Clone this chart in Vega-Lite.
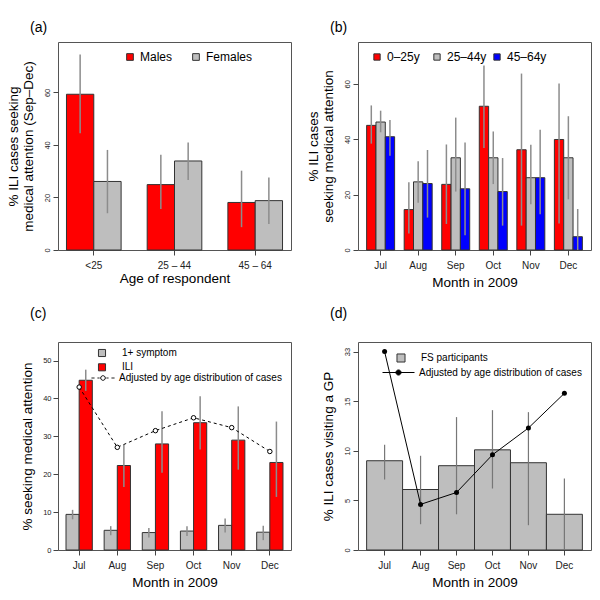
{
  "$schema": "https://vega.github.io/schema/vega-lite/v6.json",
  "padding": {"left": 5, "top": 20, "right": 5, "bottom": 5},
  "background": "white",
  "columns": 2,
  "bounds": "flush",
  "spacing": {"row": 92, "column": 67},
  "resolve": {
    "scale": {"x": "independent", "y": "independent", "xOffset": "independent", "fill": "independent", "stroke": "independent"},
    "legend": {"fill": "independent", "stroke": "independent"}
  },
  "config": {
    "font": "Liberation Sans",
    "view": {"stroke": "#555555", "strokeWidth": 1},
    "axis": {"domain": false, "grid": false, "tickColor": "#444444", "tickSize": 5, "labelColor": "#222222", "titleColor": "#000000", "titleFontWeight": "normal", "titleFontSize": 13.5, "labelFontSize": 7.5},
    "axisX": {"labelFontSize": 10, "labelAngle": 0, "labelPadding": 5, "titlePadding": 5},
    "axisY": {"labelAngle": -90, "labelAlign": "center", "labelBaseline": "bottom", "labelPadding": 2},
    "title": {"fontSize": 14, "fontWeight": "normal", "anchor": "start", "frame": "group", "dx": -28}
  },
  "concat": [
    {
      "width": 233, "height": 208,
      "title": {"text": "(a)", "offset": 7},
      "data": {"values": [
        {"age": "<25", "sex": "Males", "value": 59.3, "lo": 44.5, "hi": 74.4},
        {"age": "<25", "sex": "Females", "value": 26.1, "lo": 14.0, "hi": 38.1},
        {"age": "25 – 44", "sex": "Males", "value": 24.9, "lo": 15.6, "hi": 36.3},
        {"age": "25 – 44", "sex": "Females", "value": 33.9, "lo": 26.7, "hi": 40.9},
        {"age": "45 – 64", "sex": "Males", "value": 18.1, "lo": 8.7, "hi": 30.2},
        {"age": "45 – 64", "sex": "Females", "value": 18.8, "lo": 9.9, "hi": 27.6}
      ]},
      "encoding": {
        "x": {"field": "age", "type": "nominal", "sort": ["<25", "25 – 44", "45 – 64"], "scale": {"paddingInner": 0.323, "paddingOuter": 0.105}, "axis": {"title": "Age of respondent", "titlePadding": 1}},
        "xOffset": {"field": "sex", "type": "nominal", "sort": ["Males", "Females"], "scale": {"paddingInner": 0, "paddingOuter": 0}}
      },
      "layer": [
        {
          "mark": {"type": "bar", "stroke": "#333333", "strokeWidth": 1},
          "encoding": {
            "y": {"field": "value", "type": "quantitative", "scale": {"domain": [0, 79.2], "nice": false}, "axis": {"values": [0, 20, 40, 60], "title": ["% ILI cases seeking", "medical attention (Sep–Dec)"], "titleLineHeight": 15, "titlePadding": 8}},
            "fill": {"field": "sex", "type": "nominal", "scale": {"domain": ["Males", "Females"], "range": ["#ff0000", "#bebebe"]},
              "legend": {"orient": "none", "legendX": 66, "legendY": 9, "direction": "horizontal", "title": null, "symbolType": "square", "symbolSize": 45, "symbolStrokeColor": "#333333", "symbolStrokeWidth": 1, "labelFontSize": 12, "labelOffset": 4, "columnPadding": 3, "gridAlign": "all", "padding": 0, "labelColor": "#000000"}}
          }
        },
        {
          "mark": {"type": "rule", "color": "#8c8c8c", "strokeWidth": 1.5},
          "encoding": {"y": {"field": "lo", "type": "quantitative"}, "y2": {"field": "hi"}}
        }
      ]
    },
    {
      "width": 233, "height": 208,
      "title": {"text": "(b)", "offset": 7},
      "data": {"values": [
        {"month": "Jul", "grp": "0–25y", "value": 45.0, "lo": 38.4, "hi": 52.2},
        {"month": "Jul", "grp": "25–44y", "value": 46.2, "lo": 42.5, "hi": 50.3},
        {"month": "Jul", "grp": "45–64y", "value": 40.9, "lo": 34.0, "hi": 46.9},
        {"month": "Aug", "grp": "0–25y", "value": 14.6, "lo": 6.0, "hi": 24.5},
        {"month": "Aug", "grp": "25–44y", "value": 24.6, "lo": 17.1, "hi": 32.0},
        {"month": "Aug", "grp": "45–64y", "value": 24.0, "lo": 11.7, "hi": 36.1},
        {"month": "Sep", "grp": "0–25y", "value": 23.7, "lo": 9.4, "hi": 38.1},
        {"month": "Sep", "grp": "25–44y", "value": 33.3, "lo": 21.1, "hi": 47.8},
        {"month": "Sep", "grp": "45–64y", "value": 22.1, "lo": 5.3, "hi": 38.8},
        {"month": "Oct", "grp": "0–25y", "value": 51.9, "lo": 36.8, "hi": 66.6},
        {"month": "Oct", "grp": "25–44y", "value": 33.3, "lo": 23.8, "hi": 42.8},
        {"month": "Oct", "grp": "45–64y", "value": 21.1, "lo": 8.8, "hi": 33.2},
        {"month": "Nov", "grp": "0–25y", "value": 36.2, "lo": 8.8, "hi": 63.7},
        {"month": "Nov", "grp": "25–44y", "value": 26.1, "lo": 16.5, "hi": 38.0},
        {"month": "Nov", "grp": "45–64y", "value": 26.1, "lo": 12.9, "hi": 43.4},
        {"month": "Dec", "grp": "0–25y", "value": 39.9, "lo": 9.6, "hi": 60.1},
        {"month": "Dec", "grp": "25–44y", "value": 33.3, "lo": 18.3, "hi": 48.3},
        {"month": "Dec", "grp": "45–64y", "value": 4.8, "lo": 0, "hi": 14.8}
      ]},
      "encoding": {
        "x": {"field": "month", "type": "nominal", "sort": ["Jul", "Aug", "Sep", "Oct", "Nov", "Dec"], "scale": {"paddingInner": 0.255, "paddingOuter": 0.23}, "axis": {"title": "Month in 2009"}},
        "xOffset": {"field": "grp", "type": "nominal", "sort": ["0–25y", "25–44y", "45–64y"], "scale": {"paddingInner": 0, "paddingOuter": 0}}
      },
      "layer": [
        {
          "mark": {"type": "bar", "stroke": "#333333", "strokeWidth": 1},
          "encoding": {
            "y": {"field": "value", "type": "quantitative", "scale": {"domain": [0, 75.1], "nice": false}, "axis": {"values": [0, 10, 20, 30, 40, 50, 60, 70], "title": ["% ILI cases", "seeking medical attention"], "titleLineHeight": 15, "titlePadding": 8}},
            "fill": {"field": "grp", "type": "nominal", "scale": {"domain": ["0–25y", "25–44y", "45–64y"], "range": ["#ff0000", "#bebebe", "#0000ff"]},
              "legend": {"orient": "none", "legendX": 13, "legendY": 9, "direction": "horizontal", "title": null, "symbolType": "square", "symbolSize": 40, "symbolStrokeColor": "#333333", "symbolStrokeWidth": 1, "labelFontSize": 12, "labelOffset": 4, "columnPadding": 4, "gridAlign": "all", "padding": 0, "labelColor": "#000000"}}
          }
        },
        {
          "mark": {"type": "rule", "color": "#8c8c8c", "strokeWidth": 1.5},
          "encoding": {"y": {"field": "lo", "type": "quantitative"}, "y2": {"field": "hi"}}
        }
      ]
    },
    {
      "width": 233, "height": 208,
      "title": {"text": "(c)", "offset": 21},
      "encoding": {
        "x": {"field": "month", "type": "nominal", "sort": ["Jul", "Aug", "Sep", "Oct", "Nov", "Dec"], "scale": {"paddingInner": 0.31, "paddingOuter": 0.21}, "axis": {"title": "Month in 2009"}}
      },
      "layer": [
        {
          "data": {"values": [
            {"month": "Jul", "grp": "1+ symptom", "value": 9.4, "lo": 8.1, "hi": 10.6},
            {"month": "Jul", "grp": "ILI", "value": 44.8, "lo": 42.0, "hi": 47.6},
            {"month": "Aug", "grp": "1+ symptom", "value": 5.2, "lo": 3.9, "hi": 6.3},
            {"month": "Aug", "grp": "ILI", "value": 22.3, "lo": 16.6, "hi": 27.8},
            {"month": "Sep", "grp": "1+ symptom", "value": 4.6, "lo": 3.3, "hi": 5.8},
            {"month": "Sep", "grp": "ILI", "value": 28.0, "lo": 20.4, "hi": 36.6},
            {"month": "Oct", "grp": "1+ symptom", "value": 5.0, "lo": 3.7, "hi": 6.3},
            {"month": "Oct", "grp": "ILI", "value": 33.6, "lo": 26.5, "hi": 40.6},
            {"month": "Nov", "grp": "1+ symptom", "value": 6.5, "lo": 4.6, "hi": 8.3},
            {"month": "Nov", "grp": "ILI", "value": 29.0, "lo": 21.2, "hi": 37.9},
            {"month": "Dec", "grp": "1+ symptom", "value": 4.7, "lo": 2.6, "hi": 6.4},
            {"month": "Dec", "grp": "ILI", "value": 23.1, "lo": 14.0, "hi": 33.9}
          ]},
          "encoding": {
            "xOffset": {"field": "grp", "type": "nominal", "sort": ["1+ symptom", "ILI"], "scale": {"paddingInner": 0, "paddingOuter": 0}}
          },
          "layer": [
            {
              "mark": {"type": "bar", "stroke": "#333333", "strokeWidth": 1},
              "encoding": {
                "y": {"field": "value", "type": "quantitative", "scale": {"domain": [0, 54.9], "nice": false}, "axis": {"values": [0, 5, 10, 15, 20, 25, 30, 35, 40, 45, 50], "labelAngle": 0, "labelAlign": "right", "labelBaseline": "middle", "title": "% seeking medical attention", "titlePadding": 8}},
                "fill": {"field": "grp", "type": "nominal", "scale": {"domain": ["1+ symptom", "ILI"], "range": ["#bebebe", "#ff0000"]},
                  "legend": {"orient": "none", "legendX": 39, "legendY": 6, "direction": "vertical", "title": null, "symbolType": "square", "symbolSize": 50, "symbolStrokeColor": "#333333", "symbolStrokeWidth": 1, "labelFontSize": 10, "labelOffset": 15, "rowPadding": 2.3, "padding": 0, "labelColor": "#000000"}}
              }
            },
            {
              "mark": {"type": "rule", "color": "#8c8c8c", "strokeWidth": 1.5},
              "encoding": {"y": {"field": "lo", "type": "quantitative"}, "y2": {"field": "hi"}}
            }
          ]
        },
        {
          "data": {"values": [
            {"month": "Jul", "adj": 43.0},
            {"month": "Aug", "adj": 27.1},
            {"month": "Sep", "adj": 31.5},
            {"month": "Oct", "adj": 34.9},
            {"month": "Nov", "adj": 32.3},
            {"month": "Dec", "adj": 26.0}
          ]},
          "layer": [
            {
              "mark": {"type": "line", "strokeDash": [3, 3], "strokeWidth": 1},
              "encoding": {
                "y": {"field": "adj", "type": "quantitative"},
                "stroke": {"datum": "Adjusted by age distribution of cases", "scale": {"range": ["#000000"]},
                  "legend": {"orient": "none", "legendX": 33, "legendY": 24, "title": null, "symbolType": "M-1,0L-0.74,0M-0.48,0L-0.3,0M0.3,0L0.48,0M0.74,0L1,0M0.2,0A0.2,0.2,0,1,1,-0.2,0A0.2,0.2,0,1,1,0.2,0Z", "symbolSize": 529, "symbolStrokeColor": "#000000", "symbolStrokeWidth": 1, "labelFontSize": 10, "labelOffset": 4, "padding": 0, "labelColor": "#000000", "labelLimit": 300,
                    "encode": {"symbols": {"update": {"strokeDash": {"value": [1, 0]}, "fill": {"value": "#ffffff"}}}}}}
              }
            },
            {
              "mark": {"type": "point", "shape": "circle", "filled": true, "fill": "#ffffff", "stroke": "#000000", "strokeWidth": 1, "size": 20, "opacity": 1},
              "encoding": {"y": {"field": "adj", "type": "quantitative"}}
            }
          ]
        }
      ],
      "resolve": {"scale": {"xOffset": "independent"}}
    },
    {
      "width": 233, "height": 208,
      "title": {"text": "(d)", "offset": 21},
      "encoding": {
        "x": {"field": "month", "type": "nominal", "sort": ["Jul", "Aug", "Sep", "Oct", "Nov", "Dec"], "scale": {"paddingInner": 0, "paddingOuter": 0.24}, "axis": {"title": "Month in 2009"}}
      },
      "layer": [
        {
          "data": {"values": [
            {"month": "Jul", "value": 9.0, "lo": 7.1, "hi": 10.6},
            {"month": "Aug", "value": 6.1, "lo": 2.6, "hi": 9.5},
            {"month": "Sep", "value": 8.5, "lo": 3.6, "hi": 13.4},
            {"month": "Oct", "value": 10.1, "lo": 6.2, "hi": 14.1},
            {"month": "Nov", "value": 8.8, "lo": 2.5, "hi": 13.9},
            {"month": "Dec", "value": 3.6, "lo": 0, "hi": 7.2}
          ]},
          "layer": [
            {
              "mark": {"type": "bar", "stroke": "#333333", "strokeWidth": 1},
              "encoding": {
                "y": {"field": "value", "type": "quantitative", "scale": {"domain": [0, 17, 33, 36], "range": [208, 39.4, 9.6, 0], "nice": false, "zero": false}, "axis": {"values": [0, 5, 10, 15, 33], "title": "% ILI cases visiting a GP", "titlePadding": 8}},
                "fill": {"datum": "FS participants", "scale": {"range": ["#bebebe"]},
                  "legend": {"orient": "none", "legendX": 38, "legendY": 11, "title": null, "symbolType": "square", "symbolSize": 65, "symbolStrokeColor": "#333333", "symbolStrokeWidth": 1, "labelFontSize": 10, "labelOffset": 15, "padding": 0, "labelColor": "#000000"}}
              }
            },
            {
              "mark": {"type": "rule", "color": "#777777", "strokeWidth": 1.2},
              "encoding": {"y": {"field": "lo", "type": "quantitative"}, "y2": {"field": "hi"}}
            }
          ]
        },
        {
          "data": {"values": [
            {"month": "Jul", "adj": 33},
            {"month": "Aug", "adj": 4.6},
            {"month": "Sep", "adj": 5.8},
            {"month": "Oct", "adj": 9.6},
            {"month": "Nov", "adj": 12.3},
            {"month": "Dec", "adj": 15.8}
          ]},
          "layer": [
            {
              "mark": {"type": "line", "strokeWidth": 1},
              "encoding": {
                "y": {"field": "adj", "type": "quantitative"},
                "stroke": {"datum": "Adjusted by age distribution of cases", "scale": {"range": ["#000000"]},
                  "legend": {"orient": "none", "legendX": 24, "legendY": 14, "title": null, "symbolType": "M-1,0L1,0M0.16,0A0.16,0.16,0,1,1,-0.16,0A0.16,0.16,0,1,1,0.16,0Z", "symbolSize": 1024, "symbolStrokeColor": "#000000", "symbolStrokeWidth": 1, "labelFontSize": 10, "labelOffset": 4, "padding": 0, "labelColor": "#000000", "labelLimit": 300,
                    "encode": {"symbols": {"update": {"fill": {"value": "#000000"}}}}}}
              }
            },
            {
              "mark": {"type": "point", "shape": "circle", "filled": true, "color": "#000000", "size": 25, "opacity": 1},
              "encoding": {"y": {"field": "adj", "type": "quantitative"}}
            }
          ]
        }
      ]
    }
  ]
}
